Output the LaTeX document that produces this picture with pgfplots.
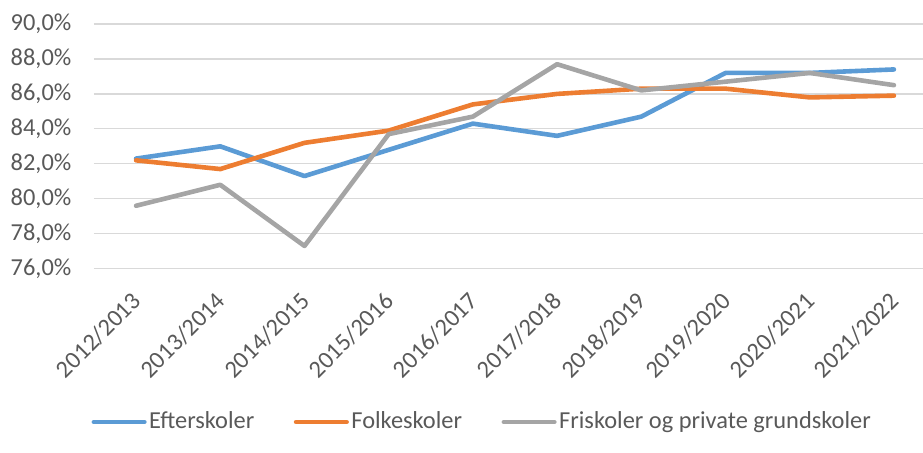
\documentclass[border=0pt]{standalone}
\usepackage{fontspec}
\setmainfont{Carlito}
\usepackage{pgfplots}
\usepackage{pgfplotstable}
\pgfplotsset{compat=1.18}
\definecolor{cblue}{HTML}{5B9BD5}
\definecolor{corange}{HTML}{ED7D31}
\definecolor{cgray}{HTML}{A5A5A5}
\definecolor{gridc}{HTML}{D9D9D9}
\definecolor{txt}{HTML}{595959}

\pgfplotstableread{
x y
0 82.3
1 83.0
2 81.3
3 82.8
4 84.3
5 83.6
6 84.7
7 87.2
8 87.2
9 87.4
}\efter
\pgfplotstableread{
x y
0 82.2
1 81.7
2 83.2
3 83.9
4 85.4
5 86.0
6 86.3
7 86.3
8 85.8
9 85.9
}\folke
\pgfplotstableread{
x y
0 79.6
1 80.8
2 77.3
3 83.7
4 84.7
5 87.7
6 86.2
7 86.7
8 87.2
9 86.5
}\fri

\begin{document}
\begin{tikzpicture}
\begin{axis}[
  at={(0pt,0pt)}, anchor=south west,
  scale only axis, width=414.5pt, height=122.35pt,
  xmin=-0.5, xmax=9.345, ymin=76, ymax=90,
  axis line style={draw=none},
  major tick length=0pt,
  ymajorgrids, grid style={gridc, line width=0.6pt},
  font=\fontsize{12.2pt}{14.5pt}\selectfont,
  ytick={76,78,80,82,84,86,88,90},
  yticklabels={{76,0\%},{78,0\%},{80,0\%},{82,0\%},{84,0\%},{86,0\%},{88,0\%},{90,0\%}},
  yticklabel style={anchor=east, inner sep=0pt, xshift=-11.15pt, text=txt},
  xtick={0,...,9},
  xticklabels={2012/2013,2013/2014,2014/2015,2015/2016,2016/2017,2017/2018,2018/2019,2019/2020,2020/2021,2021/2022},
  xticklabel style={inner sep=0pt, xshift=0.5pt, yshift=-14pt, rotate=45, anchor=east, text=txt},
  legend style={at={(0.4686,-0.6265)}, anchor=center, draw=none, fill=none,
    legend columns=-1, text=txt, inner sep=0pt,
    nodes={inner sep=1.25pt},
    /tikz/every even column/.append style={column sep=18.5pt}},
  legend image code/.code={\draw[#1,line cap=round] (1.125pt,0pt) -- (26.375pt,0pt);},
  every axis plot/.append style={line width=2.3pt, line cap=round, line join=round},
]
\addplot[cblue] table[x=x,y=y] {\efter};
\addlegendentry{Efterskoler}
\addplot[corange] table[x=x,y=y] {\folke};
\addlegendentry{Folkeskoler}
\addplot[cgray] table[x=x,y=y] {\fri};
\addlegendentry{Friskoler og private grundskoler}
\end{axis}
\pgfresetboundingbox
\useasboundingbox (-47pt,-92.15pt) rectangle (414.5pt,134.35pt);
\end{tikzpicture}
\end{document}
